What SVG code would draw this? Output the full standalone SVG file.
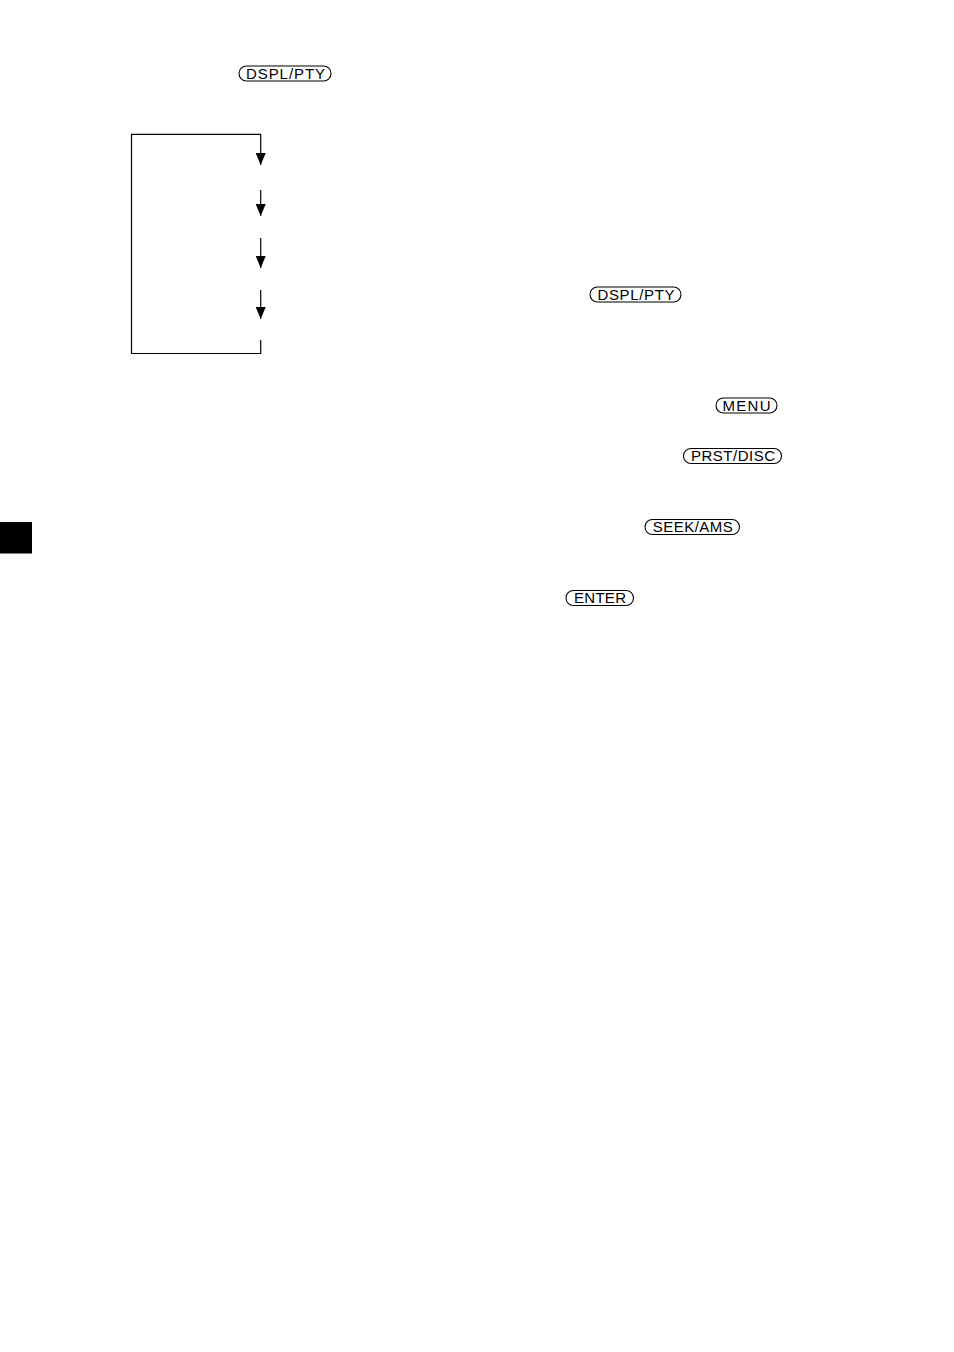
<svg xmlns="http://www.w3.org/2000/svg" width="954" height="1352" viewBox="0 0 954 1352">
<style>
.pill{fill:#fff;stroke:#000;stroke-width:1.1}
.lbl{font-family:"Liberation Sans",Arial,sans-serif;font-size:15px;fill:#000;text-anchor:middle}
.ln{fill:none;stroke:#000;stroke-width:1.2}
</style>
<defs>
<marker id="ah" viewBox="0 0 12 10" refX="12" refY="5" markerWidth="12" markerHeight="10" markerUnits="userSpaceOnUse" orient="auto">
<path d="M0,0 L12,5 L0,10 Z" fill="#000"/>
</marker>
</defs>
<rect width="954" height="1352" fill="#fff"/>
<g id="btn-dspl-pty-1">
<rect class="pill" x="239" y="66" width="92" height="15" rx="7.5"/>
<text class="lbl" x="285.5" y="78.8" textLength="79" lengthAdjust="spacing">DSPL/PTY</text>
</g>
<g id="btn-dspl-pty-2">
<rect class="pill" x="590" y="287" width="91" height="15" rx="7.5"/>
<text class="lbl" x="636" y="299.8" textLength="77" lengthAdjust="spacing">DSPL/PTY</text>
</g>
<g id="btn-menu">
<rect class="pill" x="716" y="398" width="61" height="15" rx="7.5"/>
<text class="lbl" x="746.5" y="410.8" textLength="48" lengthAdjust="spacing">MENU</text>
</g>
<g id="btn-prst-disc">
<rect class="pill" x="683.5" y="448.5" width="98" height="15" rx="7.5"/>
<text class="lbl" x="733" y="461.3" textLength="84" lengthAdjust="spacing">PRST/DISC</text>
</g>
<g id="btn-seek-ams">
<rect class="pill" x="645" y="519.5" width="94.5" height="15" rx="7.5"/>
<text class="lbl" x="692.8" y="532.3" textLength="80" lengthAdjust="spacing">SEEK/AMS</text>
</g>
<g id="btn-enter">
<rect class="pill" x="566" y="590.5" width="67.5" height="15" rx="7.5"/>
<text class="lbl" x="600" y="603.3" textLength="52" lengthAdjust="spacing">ENTER</text>
</g>
<g id="tab-marker">
<rect x="0" y="522" width="32" height="31.5" fill="#000"/>
</g>
<g id="connectors">
<path class="ln" d="M260.7,340 V353.5 H131.5 V134.3 H260.7 V165" marker-end="url(#ah)"/>
<path class="ln" d="M260.7,190 V216" marker-end="url(#ah)"/>
<path class="ln" d="M260.7,238 V268" marker-end="url(#ah)"/>
<path class="ln" d="M260.7,290 V319" marker-end="url(#ah)"/>
</g>
</svg>
